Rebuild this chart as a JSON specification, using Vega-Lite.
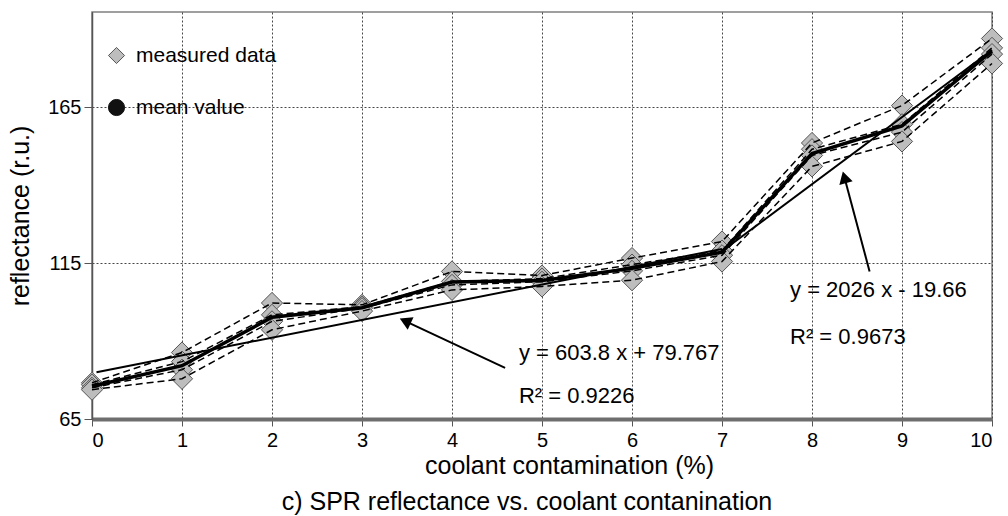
{
  "$schema": "https://vega.github.io/schema/vega-lite/v6.json",
  "width": 900,
  "height": 407,
  "autosize": {"type": "none"},
  "padding": {"left": 92, "top": 12, "right": 16, "bottom": 97},
  "background": "white",
  "config": {
    "font": "Liberation Sans",
    "view": {"stroke": "#808080", "strokeWidth": 1.5},
    "axis": {
      "gridColor": "#333333",
      "gridDash": [2, 2],
      "gridWidth": 1,
      "gridOpacity": 0.9,
      "labelColor": "black",
      "titleColor": "black",
      "titleFontWeight": "normal",
      "tickColor": "#555555",
      "labelFont": "Liberation Sans",
      "titleFont": "Liberation Sans"
    }
  },
  "title": {
    "text": "c) SPR reflectance vs. coolant contanination",
    "orient": "bottom",
    "fontSize": 25,
    "fontWeight": "normal",
    "color": "black",
    "font": "Liberation Sans",
    "offset": 12,
    "dx": -15
  },
  "datasets": {
    "meas": [
      {"x": 0, "value": 76.6, "series": "m1", "kind": "measured data"},
      {"x": 0, "value": 76.0, "series": "m2", "kind": "measured data"},
      {"x": 0, "value": 75.0, "series": "m3", "kind": "measured data"},
      {"x": 0, "value": 74.4, "series": "m4", "kind": "measured data"},
      {"x": 1, "value": 86.3, "series": "m1", "kind": "measured data"},
      {"x": 1, "value": 83.4, "series": "m2", "kind": "measured data"},
      {"x": 1, "value": 80.8, "series": "m3", "kind": "measured data"},
      {"x": 1, "value": 77.9, "series": "m4", "kind": "measured data"},
      {"x": 2, "value": 102.2, "series": "m1", "kind": "measured data"},
      {"x": 2, "value": 98.4, "series": "m2", "kind": "measured data"},
      {"x": 2, "value": 96.3, "series": "m3", "kind": "measured data"},
      {"x": 2, "value": 93.6, "series": "m4", "kind": "measured data"},
      {"x": 3, "value": 101.6, "series": "m1", "kind": "measured data"},
      {"x": 3, "value": 101.0, "series": "m2", "kind": "measured data"},
      {"x": 3, "value": 100.5, "series": "m3", "kind": "measured data"},
      {"x": 3, "value": 99.6, "series": "m4", "kind": "measured data"},
      {"x": 4, "value": 112.3, "series": "m1", "kind": "measured data"},
      {"x": 4, "value": 109.1, "series": "m2", "kind": "measured data"},
      {"x": 4, "value": 108.0, "series": "m3", "kind": "measured data"},
      {"x": 4, "value": 106.4, "series": "m4", "kind": "measured data"},
      {"x": 5, "value": 111.0, "series": "m1", "kind": "measured data"},
      {"x": 5, "value": 110.0, "series": "m2", "kind": "measured data"},
      {"x": 5, "value": 109.0, "series": "m3", "kind": "measured data"},
      {"x": 5, "value": 107.5, "series": "m4", "kind": "measured data"},
      {"x": 6, "value": 116.6, "series": "m1", "kind": "measured data"},
      {"x": 6, "value": 114.5, "series": "m2", "kind": "measured data"},
      {"x": 6, "value": 112.5, "series": "m3", "kind": "measured data"},
      {"x": 6, "value": 109.5, "series": "m4", "kind": "measured data"},
      {"x": 7, "value": 121.9, "series": "m1", "kind": "measured data"},
      {"x": 7, "value": 119.0, "series": "m2", "kind": "measured data"},
      {"x": 7, "value": 117.5, "series": "m3", "kind": "measured data"},
      {"x": 7, "value": 115.5, "series": "m4", "kind": "measured data"},
      {"x": 8, "value": 153.5, "series": "m1", "kind": "measured data"},
      {"x": 8, "value": 151.5, "series": "m2", "kind": "measured data"},
      {"x": 8, "value": 149.5, "series": "m3", "kind": "measured data"},
      {"x": 8, "value": 146.0, "series": "m4", "kind": "measured data"},
      {"x": 9, "value": 165.5, "series": "m1", "kind": "measured data"},
      {"x": 9, "value": 159.5, "series": "m2", "kind": "measured data"},
      {"x": 9, "value": 157.0, "series": "m3", "kind": "measured data"},
      {"x": 9, "value": 154.0, "series": "m4", "kind": "measured data"},
      {"x": 10, "value": 187.0, "series": "m1", "kind": "measured data"},
      {"x": 10, "value": 184.0, "series": "m2", "kind": "measured data"},
      {"x": 10, "value": 182.0, "series": "m3", "kind": "measured data"},
      {"x": 10, "value": 179.0, "series": "m4", "kind": "measured data"}
    ],
    "mean": [
      {"x": 0, "value": 75.5, "kind": "mean value"},
      {"x": 1, "value": 82.1, "kind": "mean value"},
      {"x": 2, "value": 97.6, "kind": "mean value"},
      {"x": 3, "value": 100.7, "kind": "mean value"},
      {"x": 4, "value": 108.9, "kind": "mean value"},
      {"x": 5, "value": 109.4, "kind": "mean value"},
      {"x": 6, "value": 113.3, "kind": "mean value"},
      {"x": 7, "value": 118.5, "kind": "mean value"},
      {"x": 8, "value": 150.1, "kind": "mean value"},
      {"x": 9, "value": 159.0, "kind": "mean value"},
      {"x": 10, "value": 183.0, "kind": "mean value"}
    ],
    "fits": [
      {"fit": "f1", "x": 0.05, "value": 80.0},
      {"fit": "f1", "x": 7, "value": 119.5},
      {"fit": "f2", "x": 7, "value": 118.8},
      {"fit": "f2", "x": 10, "value": 183.3}
    ],
    "arrows": [
      {"arrow": "a1", "x": 4.59, "value": 81.4},
      {"arrow": "a1", "x": 3.48, "value": 96.4},
      {"arrow": "a2", "x": 8.64, "value": 112.3},
      {"arrow": "a2", "x": 8.36, "value": 142.5}
    ],
    "heads": [
      {"arrow": "a1", "x": 3.48, "value": 96.4},
      {"arrow": "a2", "x": 8.36, "value": 142.5}
    ],
    "labels": [
      {"label": "y = 603.8 x + 79.767", "x": 4.744, "value": 86.2},
      {"label": "R² = 0.9226", "x": 4.744, "value": 72.4},
      {"label": "y = 2026 x - 19.66", "x": 7.756, "value": 106.5},
      {"label": "R² = 0.9673", "x": 7.756, "value": 91.4}
    ]
  },
  "encoding": {
    "x": {
      "field": "x",
      "type": "quantitative",
      "scale": {"domain": [0, 10], "nice": false, "zero": false},
      "axis": {
        "title": "coolant contamination (%)",
        "values": [0, 1, 2, 3, 4, 5, 6, 7, 8, 9, 10],
        "grid": true,
        "labelFontSize": 20,
        "labelPadding": 4,
        "tickSize": 7,
        "domainColor": "#6e6e6e",
        "domainWidth": 4,
        "titleFontSize": 25,
        "titlePadding": 3,
        "titleX": 477
      }
    },
    "y": {
      "field": "value",
      "type": "quantitative",
      "scale": {"domain": [65, 195.5], "nice": false, "zero": false},
      "axis": {
        "title": "reflectance (r.u.)",
        "values": [65, 115, 165],
        "grid": true,
        "labelFontSize": 20,
        "labelPadding": 3,
        "tickSize": 8,
        "domainColor": "#555555",
        "domainWidth": 1.5,
        "titleFontSize": 25,
        "titlePadding": 14
      }
    }
  },
  "layer": [
    {
      "data": {"name": "mean"},
      "mark": {"type": "point", "filled": true, "opacity": 1, "size": 220, "strokeWidth": 1},
      "encoding": {
        "shape": {
          "field": "kind", "type": "nominal",
          "scale": {"domain": ["measured data", "mean value"], "range": ["diamond", "circle"]},
          "legend": {
            "orient": "none", "legendX": 14, "legendY": 33, "title": null,
            "labelFontSize": 21, "labelColor": "black", "symbolSize": 260,
            "rowPadding": 30, "labelOffset": 9, "padding": 0, "symbolStrokeWidth": 1
          }
        },
        "fill": {
          "field": "kind", "type": "nominal",
          "scale": {"domain": ["measured data", "mean value"], "range": ["#bdbdbd", "#111111"]},
          "legend": {
            "orient": "none", "legendX": 14, "legendY": 33, "title": null,
            "labelFontSize": 21, "labelColor": "black", "symbolSize": 260,
            "rowPadding": 30, "labelOffset": 9, "padding": 0, "symbolStrokeWidth": 1
          }
        },
        "stroke": {
          "field": "kind", "type": "nominal",
          "scale": {"domain": ["measured data", "mean value"], "range": ["#555555", "#111111"]},
          "legend": {
            "orient": "none", "legendX": 14, "legendY": 33, "title": null,
            "labelFontSize": 21, "labelColor": "black", "symbolSize": 260,
            "rowPadding": 30, "labelOffset": 9, "padding": 0, "symbolStrokeWidth": 1
          }
        }
      }
    },
    {
      "data": {"name": "meas"},
      "mark": {"type": "point", "filled": true, "opacity": 1, "size": 450, "strokeWidth": 1},
      "encoding": {
        "shape": {"field": "kind", "type": "nominal"},
        "fill": {"field": "kind", "type": "nominal"},
        "stroke": {"field": "kind", "type": "nominal"}
      }
    },
    {
      "data": {"name": "meas"},
      "mark": {"type": "line", "color": "black", "strokeWidth": 1.5, "strokeDash": [7, 4]},
      "encoding": {"detail": {"field": "series", "type": "nominal"}}
    },
    {
      "data": {"name": "mean"},
      "mark": {"type": "line", "color": "black", "strokeWidth": 3.5},
      "encoding": {}
    },
    {
      "data": {"name": "fits"},
      "mark": {"type": "line", "color": "black", "strokeWidth": 2},
      "encoding": {"detail": {"field": "fit", "type": "nominal"}}
    },
    {
      "data": {"name": "arrows"},
      "mark": {"type": "line", "color": "black", "strokeWidth": 2},
      "encoding": {"detail": {"field": "arrow", "type": "nominal"}}
    },
    {
      "data": {"name": "heads"},
      "transform": [{"filter": "datum.arrow === 'a1'"}],
      "mark": {"type": "point", "shape": "triangle-up", "filled": true, "color": "black", "opacity": 1, "size": 190, "angle": 295},
      "encoding": {}
    },
    {
      "data": {"name": "heads"},
      "transform": [{"filter": "datum.arrow === 'a2'"}],
      "mark": {"type": "point", "shape": "triangle-up", "filled": true, "color": "black", "opacity": 1, "size": 190, "angle": 344.5},
      "encoding": {}
    },
    {
      "data": {"name": "labels"},
      "mark": {"type": "text", "align": "left", "baseline": "middle", "fontSize": 22, "color": "black", "font": "Liberation Sans"},
      "encoding": {"text": {"field": "label", "type": "nominal"}}
    }
  ]
}
